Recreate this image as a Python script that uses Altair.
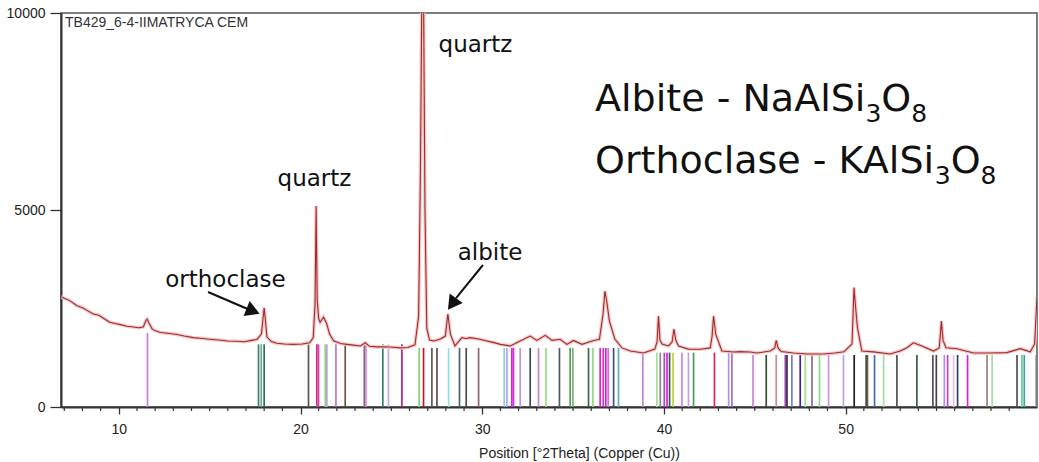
import altair as alt
import pandas as pd

# ---- diffractogram (2-theta in degrees, counts) ----
spec_theta = [6.83, 7.0, 7.3, 7.7, 8.0, 8.3, 8.6, 8.9, 9.2, 9.5, 9.8, 10.1, 10.45, 10.8, 11.1, 11.35,
              11.5, 11.56, 11.65, 11.85, 12.1, 12.3, 12.7, 13.2, 13.6, 14.1, 14.5, 15.0, 15.5, 16.0,
              16.5, 16.9, 17.3, 17.6, 17.85, 17.95, 18.0, 18.06, 18.15, 18.4, 18.7, 19.1, 19.6, 20.1,
              20.5, 20.7, 20.8, 20.86, 20.92, 21.0, 21.08, 21.27, 21.45, 21.6, 21.82, 22.2, 22.55,
              22.9, 23.3, 23.56, 23.8, 24.2, 24.6, 25.1, 25.5, 25.9, 26.3, 26.5, 26.6, 26.68, 26.77,
              26.85, 26.95, 27.1, 27.35, 27.7, 27.97, 28.11, 28.25, 28.5, 28.88, 29.1, 29.34, 29.8,
              30.26, 30.6, 31.0, 31.54, 32.09, 32.64, 33.01, 33.47, 33.84, 34.29, 34.66, 35.02, 35.49,
              36.04, 36.45, 36.65, 36.75, 36.85, 37.0, 37.3, 37.69, 38.15, 38.88, 39.5, 39.62, 39.7,
              39.78, 39.9, 40.25, 40.45, 40.55, 40.65, 40.8, 41.35, 42.0, 42.55, 42.65, 42.73, 42.85,
              43.19, 43.83, 44.2, 44.75, 45.12, 45.85, 46.1, 46.18, 46.28, 46.45, 47.13, 47.87, 48.78,
              49.4, 49.9, 50.35, 50.46, 50.55, 50.65, 50.89, 51.53, 52.45, 53.0, 53.37, 53.73, 54.1,
              54.84, 55.15, 55.27, 55.36, 55.52, 56.13, 57.04, 57.96, 58.87, 59.61, 60.16, 60.4, 60.53]
spec_counts = [2800, 2760, 2700, 2570, 2520, 2440, 2360, 2330, 2240, 2150, 2120, 2090, 2050, 2030, 2010, 2030,
               2200, 2230, 2140, 1970, 1920, 1890, 1870, 1840, 1800, 1760, 1745, 1720, 1700, 1675,
               1670, 1655, 1690, 1715, 1850, 2300, 2520, 2250, 1780, 1660, 1620, 1600, 1590, 1600,
               1630, 1760, 2600, 5100, 2700, 2250, 2150, 2280, 2100, 1850, 1680, 1610, 1590,
               1570, 1550, 1630, 1540, 1525, 1530, 1515, 1500, 1510, 1580, 2300, 6000, 10600, 10600,
               5000, 2000, 1700, 1675, 1725, 1800, 2360, 1850, 1550, 1760, 1740, 1760, 1725,
               1675, 1640, 1590, 1550, 1675, 1800, 1690, 1820, 1690, 1720, 1590, 1690, 1590,
               1675, 1720, 2360, 2940, 2690, 2180, 1725, 1500, 1420, 1370, 1470, 1650, 2310,
               1700, 1600, 1550, 1650, 1980, 1700, 1550, 1470, 1465, 1500, 1800, 2310, 1850,
               1420, 1395, 1405, 1395, 1370, 1420, 1500, 1690, 1500, 1410, 1370, 1345, 1345,
               1370, 1400, 1600, 3030, 2520, 2010, 1420, 1400, 1345, 1420, 1505, 1630, 1565,
               1420, 1500, 2180, 1690, 1505, 1480, 1370, 1370, 1380, 1480, 1400, 1600, 2800]

# ---- reference pattern sticks ----
stick_pos = [11.58, 17.69, 17.84, 18.00, 20.44, 20.90, 20.99, 21.36, 21.45, 21.95, 22.46, 23.51, 23.60,
             24.53, 24.84, 25.58, 26.53, 26.77, 27.23, 27.51, 28.15, 28.75, 29.12, 29.80, 31.21, 31.36,
             31.63, 31.72, 32.09, 32.64, 33.10, 33.51, 34.25, 34.84, 34.99, 35.85, 36.09, 36.49, 36.66,
             36.80, 36.93, 37.23, 37.50, 38.84, 39.61, 39.80, 40.02, 40.17, 40.31, 40.50, 40.99, 41.35,
             41.63, 42.78, 43.56, 43.74, 44.90, 45.63, 46.18, 46.68, 46.77, 47.04, 47.50, 47.78, 48.15,
             48.56, 49.06, 49.88, 50.47, 51.13, 51.20, 51.59, 52.09, 52.82, 53.92, 54.80, 54.99, 55.43,
             55.61, 55.94, 56.16, 56.71, 57.78, 58.06, 59.43, 59.70, 59.83, 60.49]
stick_top = [1880, 1590, 1590, 1590, 1590, 1590, 1590, 1590, 1590, 1590, 1590, 1590, 1590,
             1590, 1590, 1590, 1500, 1500, 1500, 1500, 1500, 1500, 1500, 1500, 1500, 1500,
             1500, 1500, 1500, 1500, 1500, 1500, 1500, 1500, 1500, 1500, 1500, 1500, 1500,
             1500, 1500, 1500, 1500, 1380, 1380, 1380, 1380, 1380, 1380, 1380, 1380, 1380,
             1380, 1380, 1380, 1380, 1320, 1320, 1320, 1320, 1320, 1320, 1320, 1320, 1320,
             1320, 1320, 1320, 1320, 1320, 1320, 1320, 1320, 1320, 1320, 1320, 1320, 1320,
             1320, 1320, 1320, 1320, 1320, 1320, 1320, 1320, 1320, 1320]
stick_color = ["#c77fd6", "#3f7f6f", "#6aa89a", "#2f6f5f", "#555555", "#d4259a", "#e0409c", "#9ad47a",
               "#b9a3e0", "#c474d0", "#6e5050", "#a05a9a", "#c992c9", "#2f8070", "#c6a6e6", "#b4237e",
               "#86d46a", "#c0142c", "#555a5a", "#6a4a4a", "#8fe2e2", "#506070", "#4a4a4a", "#8a6a6a",
               "#93c9ea", "#b3a3e3", "#e21ee2", "#d030d8", "#c593e3", "#454555", "#c484d4", "#94e284",
               "#555566", "#4f9f4f", "#74b474", "#3d6b3d", "#95d585", "#e222d2", "#d232c2", "#b432c4",
               "#e466e4", "#405060", "#5fb0b0", "#c484d4", "#a2e292", "#9080a0", "#a050c0", "#e020e0",
               "#306030", "#c0d040", "#d080e0", "#c0a0e0", "#40a060", "#e02060", "#b090e0", "#a070d0",
               "#d080e0", "#305030", "#c09090", "#a040c0", "#303030", "#7080c0", "#4020a0", "#a0e090",
               "#807090", "#80e080", "#d090e0", "#c0a0e0", "#202020", "#404040", "#606040", "#4070a0",
               "#a0e0a0", "#505050", "#306040", "#505060", "#504040", "#b090e0", "#c040d0", "#e0c0f0",
               "#304060", "#e020e0", "#a08080", "#a0e0a0", "#505050", "#60d0a0", "#40a0a0", "#808080"]

# ---- phase labels and arrows ----
label_text = ["quartz", "quartz", "albite", "orthoclase"]
label_theta = [29.63, 20.77, 30.43, 15.87]
label_counts = [9010, 5609, 3731, 3046]

arrow_theta = [14.91, 30.04]
arrow_counts = [2919, 3604]
arrow_theta2 = [17.22, 28.56]
arrow_counts2 = [2462, 2766]
head_theta = [17.39, 28.34]
head_counts = [2436, 2614]
head_angle = [112, 216]

# formulas: (text, is_subscript) pieces per line
formula_pieces = [
    [("Albite - NaAlSi", False), ("3", True), ("O", False), ("8", True)],
    [("Orthoclase - KAlSi", False), ("3", True), ("O", False), ("8", True)],
]
formula_theta = [36.21, 36.21]
formula_counts = [7520, 5939]

sample_name = "TB429_6-4-IIMATRYCA CEM"

x_domain = [6.82, 60.53]
y_domain = [0, 10000]
x_major_ticks = [10, 20, 30, 40, 50]
x_minor_ticks = [v for v in range(7, 61) if v % 10 != 0]
y_tick_values = [0, 5000, 10000]

AXIS_FONT = "Liberation Sans"
NOTE_FONT = "DejaVu Sans"
PLOT_W, PLOT_H = 976, 394
FORMULA_SIZE = 38
SUB_SIZE = 25
SUB_DROP = 11  # pixels

# pixels per data unit, for placing the formula pieces one after another
PX_PER_DEG = PLOT_W / (x_domain[1] - x_domain[0])
PX_PER_COUNT = PLOT_H / (y_domain[1] - y_domain[0])

# DejaVu Sans advance widths (units per em = 2048)
ADVANCE = {"A": 1401, "l": 569, "b": 1300, "i": 569, "t": 803, "e": 1260, " ": 651, "-": 739,
           "N": 1532, "a": 1255, "S": 1300, "O": 1612, "r": 842, "h": 1298, "o": 1253, "c": 1126,
           "s": 1067, "K": 1343, "3": 1303, "8": 1303}


def text_width(s, size):
    return sum(ADVANCE[ch] for ch in s) / 2048 * size


formula_rows = []
for pieces, th, ct in zip(formula_pieces, formula_theta, formula_counts):
    offset = 0.0
    for txt, sub in pieces:
        size = SUB_SIZE if sub else FORMULA_SIZE
        drop = SUB_DROP if sub else 0
        formula_rows.append({"theta": th + offset / PX_PER_DEG,
                             "counts": ct - drop / PX_PER_COUNT,
                             "text": txt, "size": size})
        offset += text_width(txt, size)

x_scale = alt.Scale(domain=x_domain, nice=False, zero=False)
y_scale = alt.Scale(domain=y_domain, nice=False)

x_axis = alt.Axis(
    values=x_major_ticks, tickSize=7, labelOverlap=False, labelFlush=False,
    grid=False, domainColor="#333333", domainWidth=2, tickColor="#333333", tickWidth=1.3,
    labelFont=AXIS_FONT, labelFontSize=14, labelPadding=8, labelColor="#222222",
    title="Position [°2Theta] (Copper (Cu))",
    titleFont=AXIS_FONT, titleFontSize=14, titleFontWeight="normal", titleColor="#222222",
    titleX=518, titleY=39, titleBaseline="top",
)
y_axis = alt.Axis(
    values=y_tick_values, format="d", title=None, grid=False,
    domainColor="#333333", domainWidth=2, tickColor="#333333", tickWidth=1.3, tickSize=11,
    labelFont=AXIS_FONT, labelFontSize=14, labelPadding=5, labelColor="#222222",
)


def X(field):
    return alt.X(field, type="quantitative", scale=x_scale, axis=x_axis)


def Y(field):
    return alt.Y(field, type="quantitative", scale=y_scale, axis=y_axis)


spec_df = pd.DataFrame({"theta": spec_theta, "counts": spec_counts})
stick_df = pd.DataFrame({"theta": stick_pos, "counts": stick_top, "color": stick_color})
minor_df = pd.DataFrame({"theta": x_minor_ticks})
label_df = pd.DataFrame({"theta": label_theta, "counts": label_counts, "text": label_text})
arrow_df = pd.DataFrame({"theta": arrow_theta, "counts": arrow_counts,
                         "theta2": arrow_theta2, "counts2": arrow_counts2})
head_df = pd.DataFrame({"theta": head_theta, "counts": head_counts, "angle": head_angle})
formula_df = pd.DataFrame(formula_rows)
name_df = pd.DataFrame({"theta": [7.04], "counts": [9758], "text": [sample_name]})

# minor ticks of the 2-theta axis, hanging below the axis line
minor = alt.Chart(minor_df).mark_rule(strokeWidth=1.2, color="#333333", clip=False).encode(
    x=X("theta"), y=alt.value(PLOT_H), y2=alt.value(PLOT_H + 4))

sticks = alt.Chart(stick_df).mark_rule(strokeWidth=1.7).encode(
    x=X("theta"), y=Y("counts"), y2=alt.datum(0),
    color=alt.Color("color:N", scale=None),
)

halo = alt.Chart(spec_df).mark_line(clip=True, strokeWidth=3.5, color="#f5c8c8").encode(
    x=X("theta"), y=Y("counts"))
trace = alt.Chart(spec_df).mark_line(clip=True, strokeWidth=1.1, color="#9e2b2b").encode(
    x=X("theta"), y=Y("counts"))

arrows = alt.Chart(arrow_df).mark_rule(strokeWidth=2, color="#111111").encode(
    x=X("theta"), y=Y("counts"), x2="theta2:Q", y2="counts2:Q")
heads = alt.Chart(head_df).mark_point(shape="triangle-up", filled=True, size=260,
                                      color="#111111", opacity=1).encode(
    x=X("theta"), y=Y("counts"), angle=alt.Angle("angle:Q", scale=None))

labels = alt.Chart(label_df).mark_text(font=NOTE_FONT, fontSize=23, color="#111111",
                                       align="center", baseline="alphabetic").encode(
    x=X("theta"), y=Y("counts"), text="text:N")

formulas = alt.Chart(formula_df).mark_text(font=NOTE_FONT, color="#111111",
                                           align="left", baseline="alphabetic").encode(
    x=X("theta"), y=Y("counts"), text="text:N",
    size=alt.Size("size:Q", scale=None),
)

name = alt.Chart(name_df).mark_text(font=AXIS_FONT, fontSize=14, color="#333333",
                                    align="left", baseline="middle").encode(
    x=X("theta"), y=Y("counts"), text="text:N")

chart = alt.layer(minor, sticks, halo, trace, arrows, heads, labels, formulas, name).properties(
    width=PLOT_W, height=PLOT_H, autosize="none",
    padding={"left": 61, "top": 13, "right": 1, "bottom": 55},
    background="white",
).configure_view(stroke="#555555", strokeWidth=1.5)

chart.save("out.html", embed_options={"renderer": "svg", "actions": False})
